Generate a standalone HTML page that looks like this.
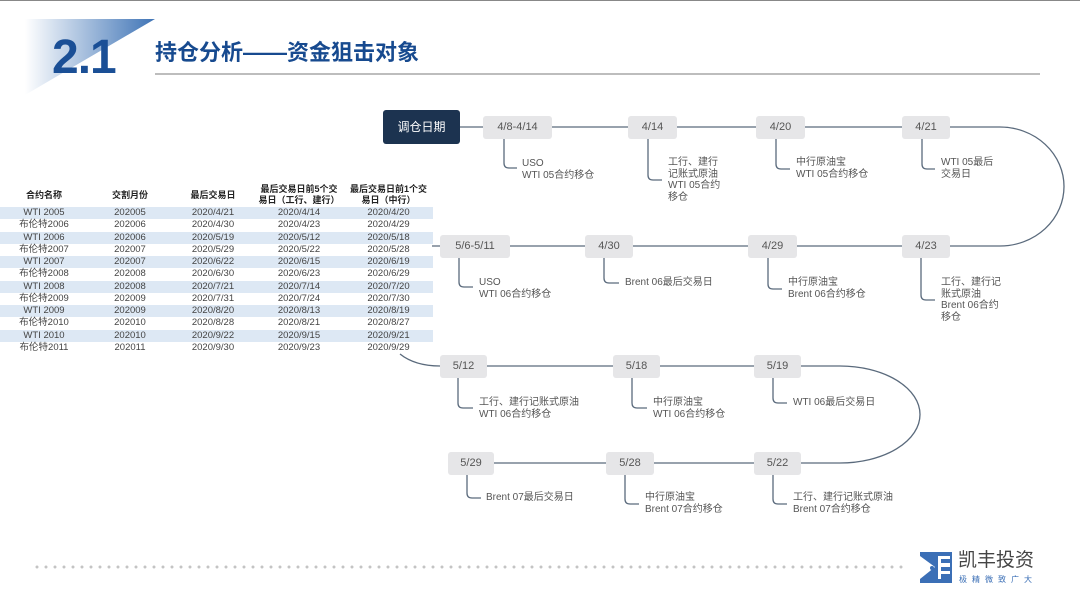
<!DOCTYPE html>
<html><head><meta charset="utf-8"><style>
*{margin:0;padding:0;box-sizing:border-box}
body{width:1080px;height:608px;position:relative;background:#fff;font-family:"Liberation Sans","Noto Sans CJK SC",sans-serif;overflow:hidden;color:#444}
.a{position:absolute}
.box{position:absolute;background:#e6e6e8;border-radius:3px;height:23px;line-height:23px;text-align:center;font-size:11px;color:#555}
.t{position:absolute;font-size:10px;line-height:11.5px;color:#555;white-space:nowrap}
table{position:absolute;left:0;top:183px;width:433px;border-collapse:collapse;font-size:9.5px;color:#444;table-layout:fixed}
td{text-align:center;height:12.25px;line-height:12px;padding:0;white-space:nowrap}
th{font-weight:bold;font-size:9px;height:24px;line-height:11px;color:#222;white-space:nowrap}
tr.s td{background:#dde8f4}
</style></head><body>
<div class="a" style="left:0;top:0;width:1080px;height:1px;background:#888"></div>
<svg class="a" style="left:0;top:0" width="1080" height="608">
<defs><linearGradient id="g" x1="0" x2="1"><stop offset="0" stop-color="#fff"/><stop offset="1" stop-color="#3f74b6"/></linearGradient></defs>
<polygon points="25,19 155,19 25,95" fill="url(#g)"/>
<g fill="none" stroke="#5a6a7c" stroke-width="1.3">
<path d="M460 127 H1000 A64 59.5 0 0 1 1000 246 H432"/>
<path d="M400 354 Q415 366 440 366 H840 A80 48.5 0 0 1 840 463 H494"/>
<path d="M504 138 V163 Q504 168 509 168 H517"/>
<path d="M648 138 V175 Q648 180 653 180 H662"/>
<path d="M776 138 V164 Q776 169 781 169 H790"/>
<path d="M922 138 V164 Q922 169 927 169 H935"/>
<path d="M459 258 V282 Q459 287 464 287 H473"/>
<path d="M604 258 V278 Q604 283 609 283 H619"/>
<path d="M768 258 V284 Q768 289 773 289 H782"/>
<path d="M921 258 V295 Q921 300 926 300 H935"/>
<path d="M458 378 V403 Q458 408 463 408 H473"/>
<path d="M632 378 V403 Q632 408 637 408 H647"/>
<path d="M773 378 V398 Q773 403 778 403 H787"/>
<path d="M467 475 V493 Q467 498 472 498 H481"/>
<path d="M625 475 V499 Q625 504 630 504 H639"/>
<path d="M773 475 V499 Q773 504 778 504 H787"/>
</g>
<line x1="37" y1="567" x2="910" y2="567" stroke="#c4c4c4" stroke-width="3" stroke-dasharray="0 9" stroke-linecap="round"/>
<polygon points="920,552 952,552 952,583 920,583" fill="#3b6fb6"/>
<polygon points="920,556 935,567 920,579" fill="#fff"/>
<rect x="938" y="556" width="12" height="23" fill="#fff"/>
<rect x="941" y="559" width="11" height="4" fill="#3b6fb6"/>
<rect x="941" y="567" width="9" height="4" fill="#3b6fb6"/>
<rect x="941" y="574" width="11" height="9" fill="#3b6fb6"/>
<circle cx="932" cy="568" r="2" fill="#3b6fb6"/>
</svg>
<div class="a" style="left:52px;top:30px;font-size:48px;font-weight:bold;color:#1a4f96;letter-spacing:-1px">2.1</div>
<div class="a" style="left:155px;top:35px;font-size:22px;font-weight:bold;color:#174a8f;font-family:'Liberation Sans','Noto Sans CJK SC',sans-serif">持仓分析——资金狙击对象</div>
<div class="a" style="left:155px;top:73px;width:885px;height:2px;background:#bdbdbd"></div>

<table>
<colgroup><col style="width:88px"><col style="width:84px"><col style="width:82px"><col style="width:90px"><col style="width:89px"></colgroup>
<tr><th>合约名称</th><th>交割月份</th><th>最后交易日</th><th>最后交易日前5个交<br>易日（工行、建行）</th><th>最后交易日前1个交<br>易日（中行）</th></tr>
<tr class="s"><td>WTI 2005</td><td>202005</td><td>2020/4/21</td><td>2020/4/14</td><td>2020/4/20</td></tr>
<tr><td>布伦特2006</td><td>202006</td><td>2020/4/30</td><td>2020/4/23</td><td>2020/4/29</td></tr>
<tr class="s"><td>WTI 2006</td><td>202006</td><td>2020/5/19</td><td>2020/5/12</td><td>2020/5/18</td></tr>
<tr><td>布伦特2007</td><td>202007</td><td>2020/5/29</td><td>2020/5/22</td><td>2020/5/28</td></tr>
<tr class="s"><td>WTI 2007</td><td>202007</td><td>2020/6/22</td><td>2020/6/15</td><td>2020/6/19</td></tr>
<tr><td>布伦特2008</td><td>202008</td><td>2020/6/30</td><td>2020/6/23</td><td>2020/6/29</td></tr>
<tr class="s"><td>WTI 2008</td><td>202008</td><td>2020/7/21</td><td>2020/7/14</td><td>2020/7/20</td></tr>
<tr><td>布伦特2009</td><td>202009</td><td>2020/7/31</td><td>2020/7/24</td><td>2020/7/30</td></tr>
<tr class="s"><td>WTI 2009</td><td>202009</td><td>2020/8/20</td><td>2020/8/13</td><td>2020/8/19</td></tr>
<tr><td>布伦特2010</td><td>202010</td><td>2020/8/28</td><td>2020/8/21</td><td>2020/8/27</td></tr>
<tr class="s"><td>WTI 2010</td><td>202010</td><td>2020/9/22</td><td>2020/9/15</td><td>2020/9/21</td></tr>
<tr><td>布伦特2011</td><td>202011</td><td>2020/9/30</td><td>2020/9/23</td><td>2020/9/29</td></tr>
</table>

<div class="a" style="left:383px;top:110px;width:77px;height:34px;background:#1c3350;border-radius:3px;color:#fff;font-size:12px;line-height:34px;text-align:center">调仓日期</div>
<div class="box" style="left:483px;top:116px;width:69px">4/8-4/14</div>
<div class="box" style="left:628px;top:116px;width:49px">4/14</div>
<div class="box" style="left:756px;top:116px;width:49px">4/20</div>
<div class="box" style="left:902px;top:116px;width:48px">4/21</div>
<div class="box" style="left:440px;top:235px;width:70px">5/6-5/11</div>
<div class="box" style="left:585px;top:235px;width:48px">4/30</div>
<div class="box" style="left:748px;top:235px;width:49px">4/29</div>
<div class="box" style="left:902px;top:235px;width:48px">4/23</div>
<div class="box" style="left:440px;top:355px;width:47px">5/12</div>
<div class="box" style="left:613px;top:355px;width:47px">5/18</div>
<div class="box" style="left:754px;top:355px;width:47px">5/19</div>
<div class="box" style="left:448px;top:452px;width:46px">5/29</div>
<div class="box" style="left:606px;top:452px;width:48px">5/28</div>
<div class="box" style="left:754px;top:452px;width:47px">5/22</div>

<div class="t" style="left:522px;top:158px">USO<br>WTI 05合约移仓</div>
<div class="t" style="left:668px;top:157px">工行、建行<br>记账式原油<br>WTI 05合约<br>移仓</div>
<div class="t" style="left:796px;top:157px">中行原油宝<br>WTI 05合约移仓</div>
<div class="t" style="left:941px;top:157px">WTI 05最后<br>交易日</div>
<div class="t" style="left:479px;top:277px">USO<br>WTI 06合约移仓</div>
<div class="t" style="left:625px;top:277px">Brent 06最后交易日</div>
<div class="t" style="left:788px;top:277px">中行原油宝<br>Brent 06合约移仓</div>
<div class="t" style="left:941px;top:277px">工行、建行记<br>账式原油<br>Brent 06合约<br>移仓</div>
<div class="t" style="left:479px;top:397px">工行、建行记账式原油<br>WTI 06合约移仓</div>
<div class="t" style="left:653px;top:397px">中行原油宝<br>WTI 06合约移仓</div>
<div class="t" style="left:793px;top:397px">WTI 06最后交易日</div>
<div class="t" style="left:486px;top:492px">Brent 07最后交易日</div>
<div class="t" style="left:645px;top:492px">中行原油宝<br>Brent 07合约移仓</div>
<div class="t" style="left:793px;top:492px">工行、建行记账式原油<br>Brent 07合约移仓</div>

<div class="a" style="left:958px;top:550px;font-size:19px;color:#444;line-height:22px">凯丰投资</div>
<div class="a" style="left:959px;top:574px;font-size:8px;color:#3b6fb6;letter-spacing:5px">极精微致广大</div>
</body></html>
